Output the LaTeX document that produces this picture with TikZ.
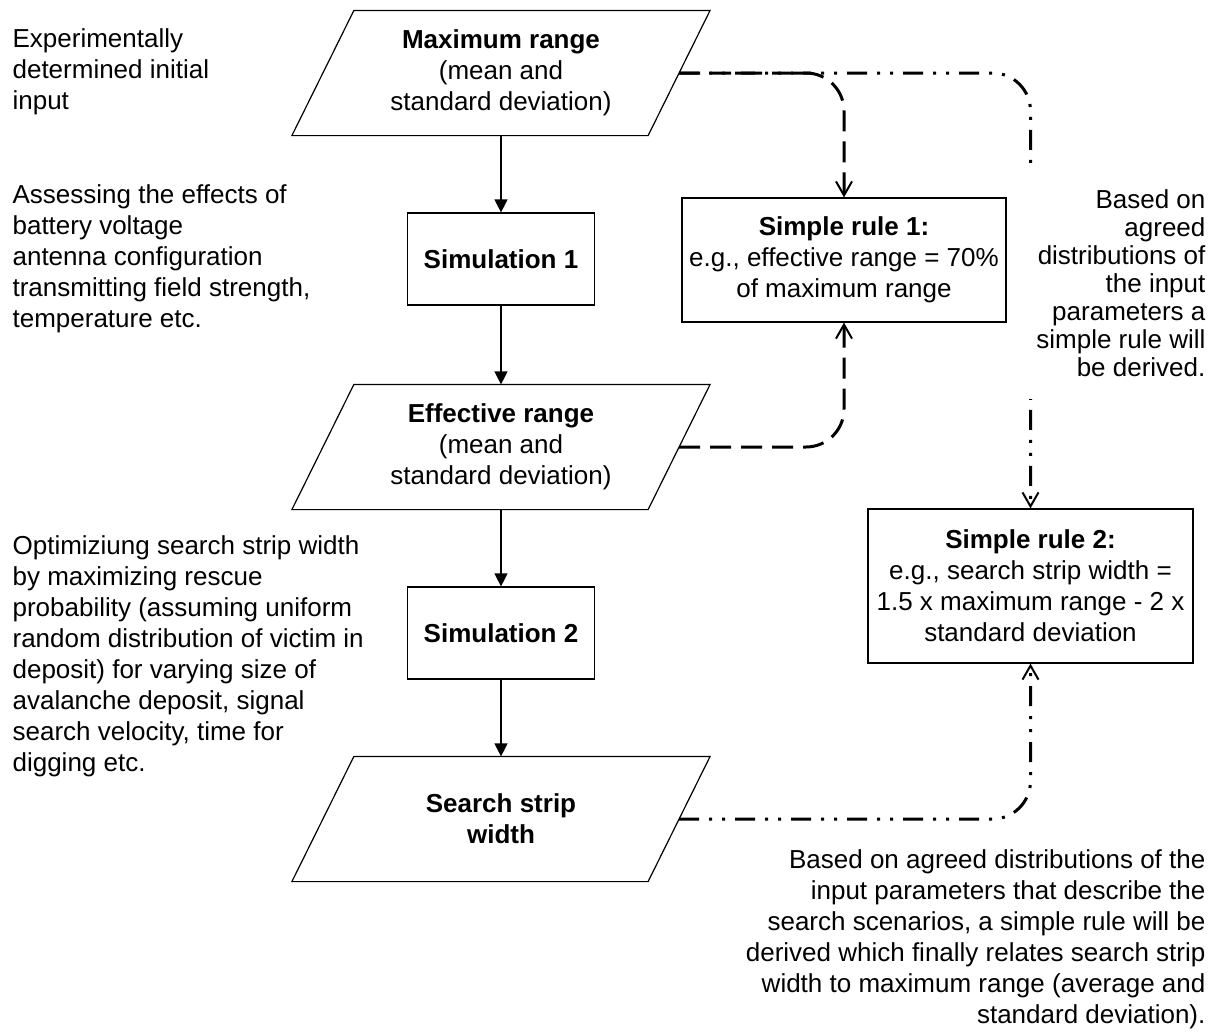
\documentclass[tikz,border=0pt]{standalone}
\usepackage{fontspec}
\setmainfont{Liberation Sans}
\usetikzlibrary{arrows.meta}

\begin{document}
\begin{tikzpicture}[x=1pt, y=-1pt, line width=1.2pt,
  every node/.style={font=\fontsize{26}{31}\selectfont, inner sep=0pt},
  iobox/.style={minimum width=355pt, minimum height=124pt, align=center},
  simbox/.style={draw, minimum width=187pt, minimum height=92pt, font=\fontsize{26}{31}\selectfont\bfseries},
  rulebox/.style={draw, align=center},
  note/.style={align=left, anchor=west},
  rnote/.style={align=right, anchor=east, fill=white, inner sep=10pt},
  flow/.style={-{Triangle[length=13pt,width=13pt]}},
  rulea/.style={line width=3pt, rounded corners=38pt, dash pattern=on 21pt off 10pt,
    -{Straight Barb[length=14pt,width=16pt,line width=2pt]}},
  ruleb/.style={line width=3pt, rounded corners=38pt,
    dash pattern=on 20pt off 10pt on 3pt off 10pt on 3pt off 10pt,
    -{Straight Barb[length=14pt,width=16pt,line width=2pt]}}]
  \useasboundingbox (0,0) rectangle (1216,1034);

  % main column
  \node[iobox] (maxr) at (501,73) {{\bfseries Maximum range}\\(mean and\\standard deviation)};
  \node[simbox] (sim1) at (501,259) {Simulation 1};
  \node[iobox] (effr) at (501,447) {{\bfseries Effective range}\\(mean and\\standard deviation)};
  \node[simbox] (sim2) at (501,633) {Simulation 2};
  \node[iobox] (strip) at (501,819) {\bfseries Search strip\\\bfseries width};

  % parallelograms round the data nodes
  \foreach \n in {maxr,effr,strip}
    \draw ([xshift=-31pt]\n.south west) -- ([xshift=31pt]\n.north west)
      -- ([xshift=31pt]\n.north east) -- ([xshift=-31pt]\n.south east) -- cycle;

  % simple rules
  \node[rulebox, minimum width=324pt, minimum height=124pt] (rule1) at (844,260)
    {{\bfseries Simple rule 1:}\\e.g., effective range = 70\%\\of maximum range};
  \node[rulebox, minimum width=325pt, minimum height=154pt] (rule2) at (1030.5,586)
    {{\bfseries Simple rule 2:}\\e.g., search strip width =\\1.5 x maximum range - 2 x\\standard deviation};

  \draw[flow] (maxr) -- (sim1);
  \draw[flow] (sim1) -- (effr);
  \draw[flow] (effr) -- (sim2);
  \draw[flow] (sim2) -- (strip);

  \draw[ruleb] (maxr.east) -| (rule2);
  \draw[rulea] (maxr.east) -| (rule1);
  \draw[rulea] (effr.east) -| (rule1);
  \draw[ruleb] (strip.east) -| (rule2);

  % notes
  \node[note] (n1) at (12,72) {Experimentally\\determined initial\\input};
  \node[note] (n2) at (12,259) {Assessing the effects of\\battery voltage\\antenna configuration\\transmitting field strength,\\temperature etc.};
  \node[note] (n3) at (12,656) {Optimiziung search strip width\\by maximizing rescue\\probability (assuming uniform\\random distribution of victim in\\deposit) for varying size of\\avalanche deposit, signal\\search velocity, time for\\digging etc.};
  \node[rnote, inner ysep=22pt, font=\fontsize{26}{28}\selectfont] (n4) at (1216,283.5) {Based on\\agreed\\distributions of\\the input\\parameters a\\simple rule will\\be derived.};
  \node[rnote] (n5) at (1216,939) {Based on agreed distributions of the\\input parameters that describe the\\search scenarios, a simple rule will be\\derived which finally relates search strip\\width to maximum range (average and\\standard deviation).};
\end{tikzpicture}
\end{document}
